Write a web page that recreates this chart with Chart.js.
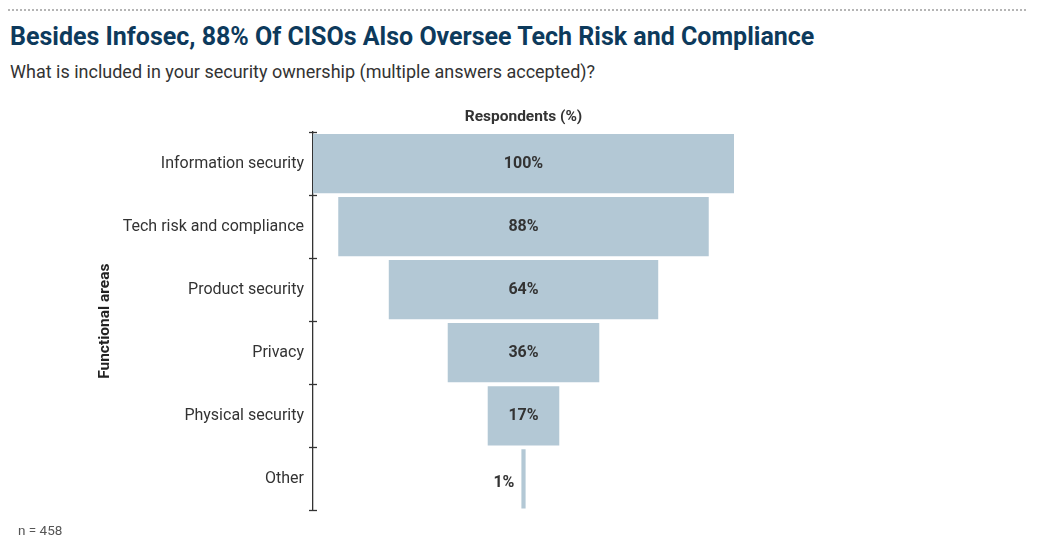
<!DOCTYPE html>
<html>
<head>
<meta charset="utf-8">
<script src="https://cdn.jsdelivr.net/npm/chart.js@4"></script>
<style>
  body { margin: 0; background: #fff; font-family: Roboto, sans-serif; }
  #wrap { position: relative; width: 1038px; height: 552px; overflow: hidden; }
  #dots { position: absolute; left: 8px; top: 9px; width: 1018px; border-top: 2px dotted #b5b5b5; }
  #title { position: absolute; left: 10px; top: 22px; font-size: 25px; font-weight: 700; color: #0d3a5c; white-space: nowrap; }
  #subtitle { position: absolute; left: 10px; top: 61px; font-size: 18px; color: #333; white-space: nowrap; }
  #note { position: absolute; left: 18px; top: 522px; font-size: 13.5px; color: #555; }
  #chartBox { position: absolute; left: 0; top: 95px; width: 1038px; height: 434px; }
</style>
</head>
<body>
<div id="wrap">
  <div id="dots"></div>
  <div id="title">Besides Infosec, 88% Of CISOs Also Oversee Tech Risk and Compliance</div>
  <div id="subtitle">What is included in your security ownership (multiple answers accepted)?</div>
  <div id="chartBox"><canvas id="funnelChart"></canvas></div>
  <div id="note">n = 458</div>
</div>
<script>
const areas = ["Information security", "Tech risk and compliance", "Product security", "Privacy", "Physical security", "Other"];
const respondents = [100, 88, 64, 36, 17, 1];

// funnel: each bar is centred on 50 on a 0-100 axis
const funnelBars = respondents.map((v) => [(100 - v) / 2, (100 + v) / 2]);

// small tick crosses on the y axis at the category boundaries
const axisTicks = {
  id: "axisTicks",
  afterDraw(chart) {
    const { ctx, chartArea } = chart;
    const x = chart.scales.y.right;
    const step = (chartArea.bottom - chartArea.top) / areas.length;
    ctx.save();
    ctx.strokeStyle = "#333";
    ctx.lineWidth = 1.3;
    for (let i = 0; i <= areas.length; i++) {
      const y = Math.round(chartArea.top + i * step) + 0.5;
      ctx.beginPath();
      ctx.moveTo(x - 4, y);
      ctx.lineTo(x + 4, y);
      ctx.stroke();
    }
    ctx.restore();
  },
};

// value labels inside the bars (or left of very thin ones)
const valueLabels = {
  id: "valueLabels",
  afterDatasetsDraw(chart) {
    const { ctx } = chart;
    const meta = chart.getDatasetMeta(0);
    ctx.save();
    ctx.font = "bold 16px Roboto, sans-serif";
    ctx.fillStyle = "#333";
    ctx.textBaseline = "middle";
    meta.data.forEach((bar, i) => {
      const text = respondents[i] + "%";
      const left = Math.min(bar.x, bar.base);
      const right = Math.max(bar.x, bar.base);
      const w = ctx.measureText(text).width;
      if (right - left > w + 10) {
        ctx.textAlign = "center";
        ctx.fillText(text, (left + right) / 2, bar.y);
      } else {
        ctx.textAlign = "right";
        ctx.fillText(text, left - 7, bar.y + 4);
      }
    });
    ctx.restore();
  },
};

const funnelCtx = document.getElementById("funnelChart");
new Chart(funnelCtx, {
  type: "bar",
  data: {
    labels: areas,
    datasets: [
      {
        label: "Respondents (%)",
        data: funnelBars,
        backgroundColor: "#b3c8d5",
        borderWidth: 0,
        barPercentage: 0.94,
        categoryPercentage: 1,
      },
    ],
  },
  options: {
    indexAxis: "y",
    responsive: true,
    maintainAspectRatio: false,
    animation: false,
    layout: { padding: { left: 0, right: 304, top: 0, bottom: 2 } },
    plugins: {
      legend: { display: false },
      tooltip: { enabled: false },
    },
    scales: {
      x: {
        position: "top",
        min: 0,
        max: 100,
        grid: { display: false },
        border: { display: false },
        ticks: { display: false },
        title: {
          display: true,
          text: "Respondents (%)",
          color: "#333",
          font: { family: "Roboto", size: 15.5, weight: "bold" },
          padding: { top: 13, bottom: 0 },
        },
        afterFit(scale) {
          scale.height = 37;
        },
      },
      y: {
        grid: { display: false, drawTicks: false },
        border: { display: true, color: "#333", width: 1.3 },
        ticks: {
          color: "#333",
          padding: 9,
          font: { family: "Roboto", size: 16 },
        },
        title: {
          display: true,
          text: "Functional areas",
          color: "#222",
          font: { family: "Roboto", size: 15.5, weight: "bold" },
          padding: { top: 96, bottom: 0 },
        },
        afterFit(scale) {
          scale.width = 313;
        },
      },
    },
  },
  plugins: [axisTicks, valueLabels],
});
</script>
</body>
</html>
